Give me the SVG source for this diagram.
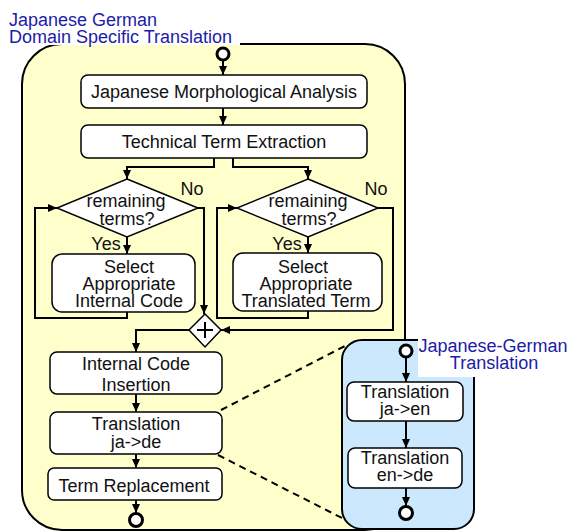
<svg xmlns="http://www.w3.org/2000/svg" width="569" height="531" viewBox="0 0 569 531">
<defs>
<marker id="arr" markerUnits="userSpaceOnUse" markerWidth="10" markerHeight="10" refX="9" refY="5" orient="auto">
<path d="M0,1 L9,5 L0,9 Z" fill="#000"/>
</marker>
<style>
.t{font-family:"Liberation Sans",Arial,sans-serif;font-size:18px;fill:#111;text-anchor:middle}
.lbl{font-family:"Liberation Sans",Arial,sans-serif;font-size:18px;fill:#1c1ca8}
.box{fill:#fff;stroke:#000;stroke-width:1.5}
.dia{fill:#fff;stroke:#000;stroke-width:1.5}
.c{fill:none;stroke:#000;stroke-width:2}
.a{fill:none;stroke:#000;stroke-width:2;marker-end:url(#arr)}
.d{fill:none;stroke:#000;stroke-width:2;stroke-dasharray:7,5}
.circ{fill:#fff;stroke:#000;stroke-width:3}
</style>
</defs>
<rect width="569" height="531" fill="#fff"/>

<g id="outer">
<rect x="22" y="44" width="383" height="486" rx="40" fill="#ffffcc" stroke="#000" stroke-width="2"/>
<rect x="0" y="0" width="240" height="45" fill="#fff"/>
<text class="lbl" x="9" y="26">Japanese German</text>
<text class="lbl" x="9" y="43">Domain Specific Translation</text>
</g>

<g id="inner">
<rect x="342" y="340" width="132" height="189" rx="20" fill="#cce8fc" stroke="#000" stroke-width="2"/>
<rect x="418" y="331" width="151" height="46" fill="#fff"/>
<text class="lbl" x="493" y="352" text-anchor="middle">Japanese-German</text>
<text class="lbl" x="494" y="369" text-anchor="middle">Translation</text>
</g>

<g id="connectors">
<path class="a" d="M223,61 V75"/>
<path class="a" d="M223,108 V125"/>
<path class="a" d="M214,158 V167 H127 V179"/>
<path class="a" d="M233,158 V167 H308 V179"/>
<path class="a" d="M127,237 V254"/>
<path class="a" d="M308,237 V253"/>
<path class="a" d="M127,312 V318 H35 V208 H57"/>
<path class="a" d="M308,311 V318 H217 V208 H237"/>
<path class="a" d="M198,208 H204 V314"/>
<path class="a" d="M378,208 H393 V330 H221"/>
<path class="a" d="M189,330 H136 V352"/>
<path class="a" d="M136,394 V412"/>
<path class="a" d="M136,454 V468"/>
<path class="a" d="M136,500 V513"/>
<path class="a" d="M406,358 V382"/>
<path class="a" d="M406,421 V448"/>
<path class="a" d="M406,488 V506"/>
<path class="d" d="M221,410 L345,346"/>
<path class="d" d="M218,455 L346,520"/>
</g>

<g id="start1"><circle class="circ" cx="223" cy="54" r="6"/></g>
<g id="end1"><circle class="circ" cx="136" cy="520" r="6.5"/></g>
<g id="start2"><circle class="circ" cx="406" cy="351" r="6"/></g>
<g id="end2"><circle class="circ" cx="406" cy="513" r="6.5"/></g>

<g id="morph">
<rect class="box" x="81" y="75" width="286" height="33" rx="7"/>
<text class="t" x="224" y="98">Japanese Morphological Analysis</text>
</g>
<g id="extract">
<rect class="box" x="81" y="125" width="286" height="33" rx="7"/>
<text class="t" x="224" y="148">Technical Term Extraction</text>
</g>

<g id="dec1">
<polygon class="dia" points="127,179 198,208 127,237 57,208"/>
<text class="t" x="126" y="207">remaining</text>
<text class="t" x="127" y="225">terms?</text>
<text class="t" x="192" y="195">No</text>
<text class="t" x="106" y="250">Yes</text>
</g>
<g id="dec2">
<polygon class="dia" points="308,179 378,208 308,237 237,208"/>
<text class="t" x="308" y="207">remaining</text>
<text class="t" x="309" y="225">terms?</text>
<text class="t" x="376" y="195">No</text>
<text class="t" x="287" y="250">Yes</text>
</g>

<g id="selcode">
<rect class="box" x="52" y="254" width="143" height="58" rx="10"/>
<text class="t" x="129" y="273">Select</text>
<text class="t" x="129" y="290">Appropriate</text>
<text class="t" x="129" y="307">Internal Code</text>
</g>
<g id="selterm">
<rect class="box" x="233" y="253" width="149" height="58" rx="10"/>
<text class="t" x="303" y="273">Select</text>
<text class="t" x="306" y="290">Appropriate</text>
<text class="t" x="306" y="307">Translated Term</text>
</g>

<g id="join">
<polygon class="dia" points="205,314 221,330 205,347 189,330"/>
<path class="c" d="M197,330 H213 M205,322 V338"/>
</g>

<g id="insert">
<rect class="box" x="50" y="352" width="172" height="42" rx="7"/>
<text class="t" x="136" y="370">Internal Code</text>
<text class="t" x="136" y="391">Insertion</text>
</g>
<g id="transjade">
<rect class="box" x="50" y="412" width="172" height="42" rx="7"/>
<text class="t" x="136" y="430">Translation</text>
<text class="t" x="136" y="448">ja-&gt;de</text>
</g>
<g id="replace">
<rect class="box" x="48" y="468" width="174" height="32" rx="6"/>
<text class="t" x="134" y="492">Term Replacement</text>
</g>

<g id="transjaen">
<rect class="box" x="347" y="382" width="116" height="39" rx="7"/>
<text class="t" x="405" y="398">Translation</text>
<text class="t" x="405" y="415">ja-&gt;en</text>
</g>
<g id="transende">
<rect class="box" x="348" y="448" width="114" height="40" rx="7"/>
<text class="t" x="405" y="464">Translation</text>
<text class="t" x="405" y="481">en-&gt;de</text>
</g>
</svg>
